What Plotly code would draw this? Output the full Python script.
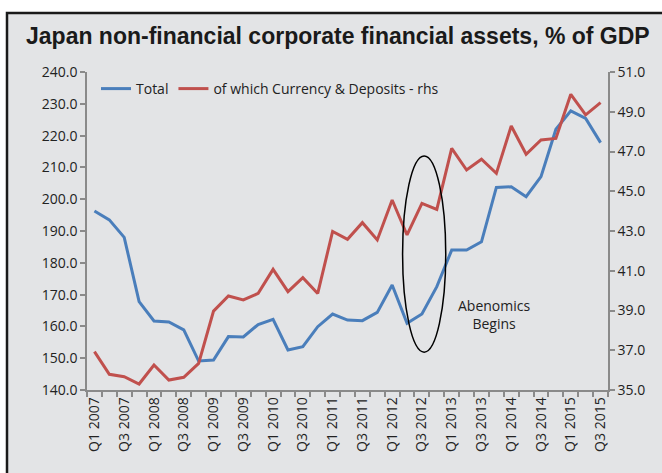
import plotly.graph_objects as go

quarters = [f"Q{q} {y}" for y in range(2007, 2016) for q in (1, 2, 3, 4)][:35]
tick_labels = quarters[::2]

total = [196.3, 193.5, 188.0, 167.8, 161.7, 161.4, 158.9, 149.1, 149.4, 156.8,
         156.7, 160.6, 162.2, 152.6, 153.6, 159.9, 163.9, 162.0, 161.8, 164.4,
         173.0, 161.0, 163.9, 172.5, 184.0, 184.0, 186.6, 203.7, 203.9, 200.8,
         207.1, 222.0, 227.8, 225.4, 217.8]

currency_deposits = [36.93, 35.79, 35.67, 35.30, 36.26, 35.50, 35.64, 36.34, 38.97, 39.73,
                     39.53, 39.86, 41.07, 39.95, 40.65, 39.86, 42.98, 42.58, 43.42, 42.55,
                     44.56, 42.80, 44.39, 44.09, 47.16, 46.07, 46.61, 45.90, 48.28, 46.86,
                     47.58, 47.66, 49.88, 48.84, 49.46]

idx = list(range(len(quarters)))

BLUE = "#4a7ebb"
RED = "#c0504d"
AXIS = "#8a8a8a"
TXT = "#222222"
BG = "#e3e4e6"
FONT = "Open Sans"

fig = go.Figure()
fig.add_trace(go.Scatter(x=idx, y=total, name="Total", mode="lines",
                         line=dict(color=BLUE, width=3), customdata=quarters,
                         hovertemplate="%{customdata}: %{y:.1f}<extra></extra>"))
fig.add_trace(go.Scatter(x=idx, y=currency_deposits, name="of which Currency & Deposits - rhs",
                         mode="lines", yaxis="y2", line=dict(color=RED, width=3),
                         customdata=quarters,
                         hovertemplate="%{customdata}: %{y:.1f}<extra></extra>"))

def px2x(px):
    return (px - 87) / 521.0

def py2y(py):
    return 1 - (py - 72) / 318.0

fig.update_layout(
    width=662, height=473,
    margin=dict(l=87, r=54, t=72, b=83),
    paper_bgcolor="white",
    plot_bgcolor="rgba(0,0,0,0)",
    font=dict(family=FONT, size=14, color=TXT),
    title=dict(text="<b>Japan non-financial corporate financial assets, % of GDP</b>",
               x=26 / 662, xanchor="left", xref="container",
               y=1 - 36 / 473, yanchor="middle", yref="container",
               font=dict(family="Liberation Sans, Arial", size=23, color="#1a1a1a")),
    showlegend=True,
    legend=dict(orientation="h", x=px2x(96), xanchor="left", y=py2y(73), yanchor="top",
                bgcolor="rgba(0,0,0,0)", font=dict(family=FONT, size=14, color=TXT),
                itemwidth=30, tracegroupgap=0),
    xaxis=dict(range=[-0.5, 34.5], tickmode="array", tickvals=idx[::2], ticktext=tick_labels,
               tickangle=-90, ticks="", showgrid=False, zeroline=False,
               showline=True, linecolor=AXIS, linewidth=1.5,
               tickfont=dict(family=FONT, size=14, color=TXT),
               minor=dict(tickmode="array", tickvals=[i - 0.5 for i in range(36)],
                          ticks="outside", ticklen=5, tickcolor=AXIS, tickwidth=1.5,
                          showgrid=False)),
    yaxis=dict(range=[140, 240], tickmode="linear", tick0=140, dtick=10, tickformat=".1f",
               ticks="outside", ticklen=5, tickcolor=AXIS, tickwidth=1.5,
               showgrid=False, zeroline=False, showline=True, linecolor=AXIS, linewidth=1.5,
               tickfont=dict(family=FONT, size=14, color=TXT)),
    yaxis2=dict(range=[35, 51], tickmode="linear", tick0=35, dtick=2, tickformat=".1f",
                overlaying="y", side="right",
                ticks="outside", ticklen=5, tickcolor=AXIS, tickwidth=1.5,
                showgrid=False, zeroline=False, showline=True, linecolor=AXIS, linewidth=1.5,
                tickfont=dict(family=FONT, size=14, color=TXT)),
    shapes=[
        dict(type="rect", xref="paper", yref="paper",
             x0=px2x(7), x1=px2x(720), y0=py2y(540), y1=py2y(13),
             line=dict(color="#1a1a1a", width=2.5), fillcolor=BG, layer="below"),
        dict(type="circle", xref="x", yref="y",
             x0=20.7, x1=23.6, y0=151.9, y1=213.6,
             line=dict(color="black", width=1.5)),
    ],
    annotations=[
        dict(text="Abenomics<br>Begins", xref="x", yref="y", x=26.84, y=163.9,
             showarrow=False, font=dict(family=FONT, size=14, color=TXT), align="center"),
    ],
)

fig.write_html("out.html")
